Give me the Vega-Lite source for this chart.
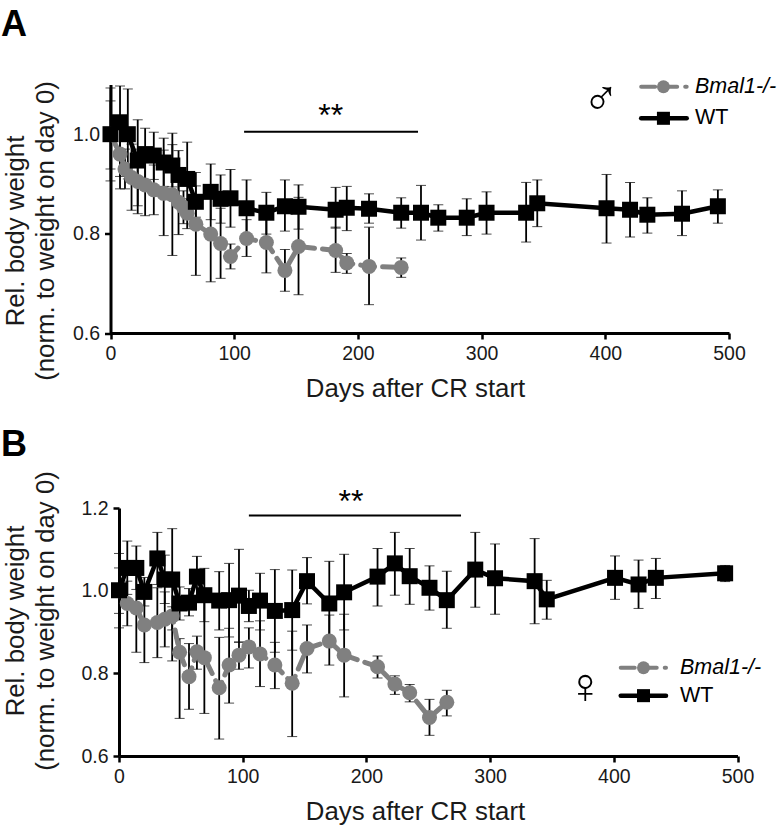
{"$schema":"https://vega.github.io/schema/vega-lite/v6.json","background":"white","padding":{"left":0,"top":6.5,"right":0,"bottom":0},"spacing":24.5,"config":{"font":"Liberation Sans","view":{"stroke":null},"axis":{"domainColor":"#000","domainWidth":3,"tickColor":"#000","tickWidth":2.5,"tickSize":6,"grid":false,"labelFlush":false,"labelFont":"Liberation Sans","labelFontSize":19.5,"labelColor":"#1a1a1a","labelPadding":5,"titleFont":"Liberation Sans","titleFontSize":25.8,"titleFontWeight":"normal","titleColor":"#1a1a1a","titleBaseline":"alphabetic","titleLineHeight":30}},
"datasets":{
"male":[
{"series":"WT","day":0,"value":1.0,"lo":0.906,"hi":1.093},{"series":"WT","day":7.7,"value":1.024,"lo":0.915,"hi":1.097},{"series":"WT","day":14,"value":1.0,"lo":0.91,"hi":1.091},{"series":"WT","day":22,"value":0.947,"lo":0.856,"hi":1.029},{"series":"WT","day":28,"value":0.96,"lo":0.906,"hi":1.012},{"series":"WT","day":35,"value":0.957,"lo":0.909,"hi":1.004},{"series":"WT","day":43,"value":0.943,"lo":0.895,"hi":0.992},{"series":"WT","day":50,"value":0.937,"lo":0.894,"hi":0.979},{"series":"WT","day":55,"value":0.918,"lo":0.869,"hi":0.967},{"series":"WT","day":62,"value":0.91,"lo":0.835,"hi":0.984},{"series":"WT","day":69,"value":0.864,"lo":0.833,"hi":0.896},{"series":"WT","day":81,"value":0.884,"lo":0.828,"hi":0.94},{"series":"WT","day":89,"value":0.87,"lo":0.821,"hi":0.918},{"series":"WT","day":97,"value":0.871,"lo":0.813,"hi":0.929},{"series":"WT","day":110,"value":0.851,"lo":0.793,"hi":0.908},{"series":"WT","day":126,"value":0.842,"lo":0.799,"hi":0.883},{"series":"WT","day":141,"value":0.855,"lo":0.805,"hi":0.908},{"series":"WT","day":152,"value":0.854,"lo":0.809,"hi":0.898},{"series":"WT","day":182,"value":0.848,"lo":0.811,"hi":0.893},{"series":"WT","day":191,"value":0.852,"lo":0.806,"hi":0.895},{"series":"WT","day":209,"value":0.85,"lo":0.821,"hi":0.88},{"series":"WT","day":235,"value":0.842,"lo":0.811,"hi":0.872},{"series":"WT","day":251,"value":0.842,"lo":0.787,"hi":0.897},{"series":"WT","day":265,"value":0.832,"lo":0.805,"hi":0.858},{"series":"WT","day":288,"value":0.832,"lo":0.796,"hi":0.87},{"series":"WT","day":304,"value":0.842,"lo":0.799,"hi":0.884},{"series":"WT","day":336,"value":0.842,"lo":0.783,"hi":0.903},{"series":"WT","day":345,"value":0.861,"lo":0.814,"hi":0.908},{"series":"WT","day":401,"value":0.851,"lo":0.781,"hi":0.919},{"series":"WT","day":420,"value":0.848,"lo":0.793,"hi":0.903},{"series":"WT","day":434,"value":0.838,"lo":0.801,"hi":0.872},{"series":"WT","day":462,"value":0.84,"lo":0.796,"hi":0.886},{"series":"WT","day":491,"value":0.855,"lo":0.821,"hi":0.888},
{"series":"Bmal1","day":0,"value":1.0,"lo":0.93,"hi":1.067},{"series":"Bmal1","day":7.7,"value":0.96,"lo":0.89,"hi":1.03},{"series":"Bmal1","day":11.7,"value":0.93,"lo":0.89,"hi":0.97},{"series":"Bmal1","day":17,"value":0.913,"lo":0.847,"hi":0.98},{"series":"Bmal1","day":22,"value":0.905,"lo":0.84,"hi":0.97},{"series":"Bmal1","day":28,"value":0.898,"lo":0.836,"hi":0.96},{"series":"Bmal1","day":35,"value":0.888,"lo":0.838,"hi":0.938},{"series":"Bmal1","day":43,"value":0.881,"lo":0.796,"hi":0.968},{"series":"Bmal1","day":50,"value":0.878,"lo":0.756,"hi":1.002},{"series":"Bmal1","day":55,"value":0.863,"lo":0.798,"hi":0.928},{"series":"Bmal1","day":59,"value":0.853,"lo":0.82,"hi":0.886},{"series":"Bmal1","day":62,"value":0.841,"lo":0.81,"hi":0.87},{"series":"Bmal1","day":69,"value":0.819,"lo":0.716,"hi":0.923},{"series":"Bmal1","day":81,"value":0.799,"lo":0.703,"hi":0.895},{"series":"Bmal1","day":89,"value":0.78,"lo":0.71,"hi":0.851},{"series":"Bmal1","day":97,"value":0.754,"lo":0.729,"hi":0.779},{"series":"Bmal1","day":110,"value":0.79,"lo":0.754,"hi":0.828},{"series":"Bmal1","day":126,"value":0.782,"lo":0.721,"hi":0.844},{"series":"Bmal1","day":141,"value":0.726,"lo":0.684,"hi":0.768},{"series":"Bmal1","day":152,"value":0.774,"lo":0.677,"hi":0.873},{"series":"Bmal1","day":182,"value":0.766,"lo":0.722,"hi":0.813},{"series":"Bmal1","day":191,"value":0.741,"lo":0.72,"hi":0.76},{"series":"Bmal1","day":209,"value":0.734,"lo":0.657,"hi":0.813},{"series":"Bmal1","day":235,"value":0.732,"lo":0.712,"hi":0.751}],
"female":[
{"series":"WT","day":0,"value":1.001,"lo":0.91,"hi":1.09},{"series":"WT","day":6.7,"value":1.055,"lo":0.991,"hi":1.12},{"series":"WT","day":14,"value":1.055,"lo":1.003,"hi":1.108},{"series":"WT","day":20.5,"value":0.997,"lo":0.963,"hi":1.032},{"series":"WT","day":31,"value":1.078,"lo":1.015,"hi":1.141},{"series":"WT","day":37,"value":1.027,"lo":0.969,"hi":1.086},{"series":"WT","day":43,"value":1.027,"lo":0.905,"hi":1.15},{"series":"WT","day":49,"value":0.969,"lo":0.929,"hi":1.009},{"series":"WT","day":56.6,"value":0.971,"lo":0.939,"hi":1.005},{"series":"WT","day":63,"value":1.034,"lo":0.985,"hi":1.083},{"series":"WT","day":69,"value":0.989,"lo":0.925,"hi":1.054},{"series":"WT","day":81,"value":0.976,"lo":0.905,"hi":1.046},{"series":"WT","day":89,"value":0.977,"lo":0.888,"hi":1.066},{"series":"WT","day":97,"value":0.988,"lo":0.875,"hi":1.1},{"series":"WT","day":105,"value":0.963,"lo":0.925,"hi":1.001},{"series":"WT","day":114,"value":0.976,"lo":0.905,"hi":1.042},{"series":"WT","day":126,"value":0.951,"lo":0.851,"hi":1.051},{"series":"WT","day":140,"value":0.953,"lo":0.856,"hi":1.05},{"series":"WT","day":152,"value":1.023,"lo":0.968,"hi":1.08},{"series":"WT","day":170,"value":0.969,"lo":0.868,"hi":1.071},{"series":"WT","day":182,"value":0.996,"lo":0.905,"hi":1.088},{"series":"WT","day":209,"value":1.034,"lo":0.963,"hi":1.102},{"series":"WT","day":223,"value":1.066,"lo":0.989,"hi":1.141},{"series":"WT","day":235,"value":1.035,"lo":0.967,"hi":1.102},{"series":"WT","day":251,"value":1.007,"lo":0.953,"hi":1.06},{"series":"WT","day":265,"value":0.977,"lo":0.909,"hi":1.047},{"series":"WT","day":288,"value":1.051,"lo":0.96,"hi":1.141},{"series":"WT","day":304,"value":1.03,"lo":0.943,"hi":1.113},{"series":"WT","day":336,"value":1.023,"lo":0.92,"hi":1.126},{"series":"WT","day":345.8,"value":0.979,"lo":0.931,"hi":1.025},{"series":"WT","day":401,"value":1.031,"lo":0.979,"hi":1.084},{"series":"WT","day":420,"value":1.015,"lo":0.957,"hi":1.074},{"series":"WT","day":434,"value":1.031,"lo":0.981,"hi":1.078},{"series":"WT","day":490,"value":1.042,"lo":1.022,"hi":1.061},
{"series":"Bmal1","day":0,"value":1.0,"lo":0.945,"hi":1.055},{"series":"Bmal1","day":6.7,"value":0.969,"lo":0.915,"hi":1.023},{"series":"Bmal1","day":14,"value":0.958,"lo":0.851,"hi":1.066},{"series":"Bmal1","day":20.5,"value":0.917,"lo":0.826,"hi":1.007},{"series":"Bmal1","day":31,"value":0.923,"lo":0.838,"hi":1.007},{"series":"Bmal1","day":37,"value":0.931,"lo":0.864,"hi":0.997},{"series":"Bmal1","day":43,"value":0.939,"lo":0.83,"hi":0.961},{"series":"Bmal1","day":49,"value":0.851,"lo":0.691,"hi":0.884},{"series":"Bmal1","day":56.6,"value":0.792,"lo":0.713,"hi":0.872},{"series":"Bmal1","day":63,"value":0.852,"lo":0.81,"hi":0.89},{"series":"Bmal1","day":69,"value":0.838,"lo":0.703,"hi":0.973},{"series":"Bmal1","day":81,"value":0.765,"lo":0.641,"hi":0.887},{"series":"Bmal1","day":89,"value":0.82,"lo":0.728,"hi":0.909},{"series":"Bmal1","day":97,"value":0.844,"lo":0.81,"hi":0.876},{"series":"Bmal1","day":105,"value":0.864,"lo":0.813,"hi":0.91},{"series":"Bmal1","day":114,"value":0.847,"lo":0.768,"hi":0.927},{"series":"Bmal1","day":126,"value":0.82,"lo":0.763,"hi":0.875},{"series":"Bmal1","day":140,"value":0.776,"lo":0.647,"hi":0.902},{"series":"Bmal1","day":152,"value":0.86,"lo":0.801,"hi":0.917},{"series":"Bmal1","day":170,"value":0.878,"lo":0.82,"hi":0.941},{"series":"Bmal1","day":182,"value":0.844,"lo":0.743,"hi":0.943},{"series":"Bmal1","day":209,"value":0.816,"lo":0.789,"hi":0.842},{"series":"Bmal1","day":223,"value":0.774,"lo":0.749,"hi":0.794},{"series":"Bmal1","day":235,"value":0.753,"lo":0.731,"hi":0.773},{"series":"Bmal1","day":251,"value":0.693,"lo":0.65,"hi":0.737},{"series":"Bmal1","day":265,"value":0.73,"lo":0.697,"hi":0.759}],
"maleLegend":[{"series":"Bmal1","day":429,"value":1.0955},{"series":"Bmal1","day":465.8,"value":1.0955},{"series":"WT","day":429,"value":1.032},{"series":"WT","day":465.8,"value":1.032}],
"maleMarker":[{"series":"Bmal1","day":447,"value":1.0955},{"series":"WT","day":447,"value":1.032}],
"femaleLegend":[{"series":"Bmal1","day":405.6,"value":0.8135},{"series":"Bmal1","day":442.2,"value":0.8135},{"series":"WT","day":405.6,"value":0.746},{"series":"WT","day":442.2,"value":0.746}],
"femaleMarker":[{"series":"Bmal1","day":424,"value":0.8135},{"series":"WT","day":424,"value":0.746}]
},
"vconcat":[
{"width":610,"height":248.5,"layer":[
{"data":{"name":"male"},"mark":{"type":"errorbar","ticks":{"size":10,"color":"#000","strokeWidth":1.8},"rule":{"color":"#000","strokeWidth":1.8}},"encoding":{"x":{"field":"day","type":"quantitative","scale":{"domain":[0,500],"nice":false,"range":[-8.5,610]},"axis":{"values":[0,100,200,300,400,500],"title":"Days after CR start","titleX":296,"titleY":63.5,"titleAlign":"center"}},"y":{"field":"lo","type":"quantitative","scale":{"domain":[0.6,1.1],"nice":false},"axis":{"values":[0.6,0.8,1.0],"format":".1f","offset":8.5,"title":["Rel. body weight","(norm. to weight on day 0)"],"titleX":-87,"titleY":146,"titleAlign":"center"}},"y2":{"field":"hi"}}},
{"data":{"name":"male"},"transform":[{"filter":"datum.series==='Bmal1'"}],"mark":{"type":"line","color":"#808080","strokeWidth":5,"strokeDash":[14,8],"strokeCap":"round"},"encoding":{"x":{"field":"day","type":"quantitative"},"y":{"field":"value","type":"quantitative"},"order":{"field":"day"}}},
{"data":{"name":"male"},"transform":[{"filter":"datum.series==='Bmal1'"}],"mark":{"type":"point","shape":"circle","filled":true,"color":"#808080","opacity":1,"size":225},"encoding":{"x":{"field":"day","type":"quantitative"},"y":{"field":"value","type":"quantitative"}}},
{"data":{"name":"male"},"transform":[{"filter":"datum.series==='WT'"}],"mark":{"type":"line","color":"#000","strokeWidth":4.5},"encoding":{"x":{"field":"day","type":"quantitative"},"y":{"field":"value","type":"quantitative"},"order":{"field":"day"}}},
{"data":{"name":"male"},"transform":[{"filter":"datum.series==='WT'"}],"mark":{"type":"point","shape":"square","filled":true,"color":"#000","opacity":1,"size":256},"encoding":{"x":{"field":"day","type":"quantitative"},"y":{"field":"value","type":"quantitative"}}},
{"data":{"values":[{"day":108,"day2":248.6,"value":1.005}]},"mark":{"type":"rule","color":"#000","strokeWidth":2},"encoding":{"x":{"field":"day","type":"quantitative"},"x2":{"field":"day2"},"y":{"field":"value","type":"quantitative"}}},
{"data":{"values":[{"day":178,"value":1.017,"label":"**"}]},"mark":{"type":"text","fontSize":32,"baseline":"alphabetic","align":"center","color":"#000"},"encoding":{"x":{"field":"day","type":"quantitative"},"y":{"field":"value","type":"quantitative"},"text":{"field":"label"}}},
{"data":{"values":[{"day":-88.5,"value":1.198,"label":"A"}]},"mark":{"type":"text","fontSize":36,"fontWeight":"bold","baseline":"alphabetic","align":"left","color":"#000"},"encoding":{"x":{"field":"day","type":"quantitative"},"y":{"field":"value","type":"quantitative"},"text":{"field":"label"}}},
{"data":{"values":[{"day":396.5,"value":1.069,"label":"♂"}]},"mark":{"type":"text","font":"Liberation Sans","fontSize":50,"baseline":"middle","align":"center","color":"#000"},"encoding":{"x":{"field":"day","type":"quantitative"},"y":{"field":"value","type":"quantitative"},"text":{"field":"label"}}},
{"data":{"name":"maleLegend"},"transform":[{"filter":"datum.series==='Bmal1'"}],"mark":{"type":"line","color":"#808080","strokeWidth":4,"strokeDash":[14,8],"strokeCap":"round"},"encoding":{"x":{"field":"day","type":"quantitative"},"y":{"field":"value","type":"quantitative"}}},
{"data":{"name":"maleLegend"},"transform":[{"filter":"datum.series==='WT'"}],"mark":{"type":"line","color":"#000","strokeWidth":4.5,"strokeCap":"round"},"encoding":{"x":{"field":"day","type":"quantitative"},"y":{"field":"value","type":"quantitative"}}},
{"data":{"name":"maleMarker"},"transform":[{"filter":"datum.series==='Bmal1'"}],"mark":{"type":"point","shape":"circle","filled":true,"color":"#808080","opacity":1,"size":169},"encoding":{"x":{"field":"day","type":"quantitative"},"y":{"field":"value","type":"quantitative"}}},
{"data":{"name":"maleMarker"},"transform":[{"filter":"datum.series==='WT'"}],"mark":{"type":"point","shape":"square","filled":true,"color":"#000","opacity":1,"size":170},"encoding":{"x":{"field":"day","type":"quantitative"},"y":{"field":"value","type":"quantitative"}}},
{"data":{"values":[{"day":472.5,"value":1.0955,"label":"Bmal1-/-"}]},"mark":{"type":"text","fontSize":21.5,"fontStyle":"italic","baseline":"middle","align":"left","color":"#000"},"encoding":{"x":{"field":"day","type":"quantitative"},"y":{"field":"value","type":"quantitative"},"text":{"field":"label"}}},
{"data":{"values":[{"day":472.5,"value":1.032,"label":"WT"}]},"mark":{"type":"text","fontSize":21.5,"baseline":"middle","align":"left","color":"#000"},"encoding":{"x":{"field":"day","type":"quantitative"},"y":{"field":"value","type":"quantitative"},"text":{"field":"label"}}}
]},
{"width":618.5,"height":248,"layer":[
{"data":{"name":"female"},"mark":{"type":"errorbar","ticks":{"size":10,"color":"#000","strokeWidth":1.8},"rule":{"color":"#000","strokeWidth":1.8}},"encoding":{"x":{"field":"day","type":"quantitative","scale":{"domain":[0,500],"nice":false},"axis":{"values":[0,100,200,300,400,500],"title":"Days after CR start","titleX":296,"titleY":63.5,"titleAlign":"center"}},"y":{"field":"lo","type":"quantitative","scale":{"domain":[0.6,1.2],"nice":false},"axis":{"values":[0.6,0.8,1.0,1.2],"format":".1f","title":["Rel. body weight","(norm. to weight on day 0)"],"titleX":-96,"titleY":112.5,"titleAlign":"center"}},"y2":{"field":"hi"}}},
{"data":{"name":"female"},"transform":[{"filter":"datum.series==='Bmal1'"}],"mark":{"type":"line","color":"#808080","strokeWidth":5,"strokeDash":[14,8],"strokeCap":"round"},"encoding":{"x":{"field":"day","type":"quantitative"},"y":{"field":"value","type":"quantitative"},"order":{"field":"day"}}},
{"data":{"name":"female"},"transform":[{"filter":"datum.series==='Bmal1'"}],"mark":{"type":"point","shape":"circle","filled":true,"color":"#808080","opacity":1,"size":225},"encoding":{"x":{"field":"day","type":"quantitative"},"y":{"field":"value","type":"quantitative"}}},
{"data":{"name":"female"},"transform":[{"filter":"datum.series==='WT'"}],"mark":{"type":"line","color":"#000","strokeWidth":4.5},"encoding":{"x":{"field":"day","type":"quantitative"},"y":{"field":"value","type":"quantitative"},"order":{"field":"day"}}},
{"data":{"name":"female"},"transform":[{"filter":"datum.series==='WT'"}],"mark":{"type":"point","shape":"square","filled":true,"color":"#000","opacity":1,"size":256},"encoding":{"x":{"field":"day","type":"quantitative"},"y":{"field":"value","type":"quantitative"}}},
{"data":{"values":[{"day":105,"day2":276.5,"value":1.182}]},"mark":{"type":"rule","color":"#000","strokeWidth":2},"encoding":{"x":{"field":"day","type":"quantitative"},"x2":{"field":"day2"},"y":{"field":"value","type":"quantitative"}}},
{"data":{"values":[{"day":187.5,"value":1.191,"label":"**"}]},"mark":{"type":"text","fontSize":32,"baseline":"alphabetic","align":"center","color":"#000"},"encoding":{"x":{"field":"day","type":"quantitative"},"y":{"field":"value","type":"quantitative"},"text":{"field":"label"}}},
{"data":{"values":[{"day":-95.4,"value":1.327,"label":"B"}]},"mark":{"type":"text","fontSize":36,"fontWeight":"bold","baseline":"alphabetic","align":"left","color":"#000"},"encoding":{"x":{"field":"day","type":"quantitative"},"y":{"field":"value","type":"quantitative"},"text":{"field":"label"}}},
{"data":{"values":[{"day":377,"value":0.7635,"label":"♀"}]},"mark":{"type":"text","font":"Liberation Sans","fontSize":50,"baseline":"middle","align":"center","color":"#000"},"encoding":{"x":{"field":"day","type":"quantitative"},"y":{"field":"value","type":"quantitative"},"text":{"field":"label"}}},
{"data":{"name":"femaleLegend"},"transform":[{"filter":"datum.series==='Bmal1'"}],"mark":{"type":"line","color":"#808080","strokeWidth":4,"strokeDash":[14,8],"strokeCap":"round"},"encoding":{"x":{"field":"day","type":"quantitative"},"y":{"field":"value","type":"quantitative"}}},
{"data":{"name":"femaleLegend"},"transform":[{"filter":"datum.series==='WT'"}],"mark":{"type":"line","color":"#000","strokeWidth":4.5,"strokeCap":"round"},"encoding":{"x":{"field":"day","type":"quantitative"},"y":{"field":"value","type":"quantitative"}}},
{"data":{"name":"femaleMarker"},"transform":[{"filter":"datum.series==='Bmal1'"}],"mark":{"type":"point","shape":"circle","filled":true,"color":"#808080","opacity":1,"size":169},"encoding":{"x":{"field":"day","type":"quantitative"},"y":{"field":"value","type":"quantitative"}}},
{"data":{"name":"femaleMarker"},"transform":[{"filter":"datum.series==='WT'"}],"mark":{"type":"point","shape":"square","filled":true,"color":"#000","opacity":1,"size":170},"encoding":{"x":{"field":"day","type":"quantitative"},"y":{"field":"value","type":"quantitative"}}},
{"data":{"values":[{"day":453.5,"value":0.8135,"label":"Bmal1-/-"}]},"mark":{"type":"text","fontSize":21.5,"fontStyle":"italic","baseline":"middle","align":"left","color":"#000"},"encoding":{"x":{"field":"day","type":"quantitative"},"y":{"field":"value","type":"quantitative"},"text":{"field":"label"}}},
{"data":{"values":[{"day":453.5,"value":0.746,"label":"WT"}]},"mark":{"type":"text","fontSize":21.5,"baseline":"middle","align":"left","color":"#000"},"encoding":{"x":{"field":"day","type":"quantitative"},"y":{"field":"value","type":"quantitative"},"text":{"field":"label"}}}
]}
]}
